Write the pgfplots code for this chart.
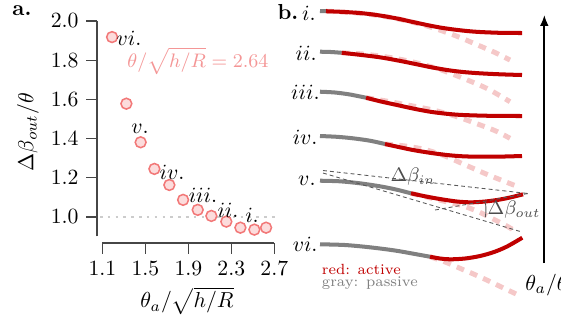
\documentclass[border=0pt]{standalone}
\usepackage{pgfplots}
\pgfplotsset{compat=1.18}
\usetikzlibrary{arrows.meta}
\definecolor{actred}{RGB}{192,0,0}
\definecolor{pasgray}{RGB}{128,128,128}
\definecolor{pinkd}{RGB}{245,200,200}
\definecolor{ptfill}{RGB}{252,220,220}
\definecolor{ptedge}{RGB}{242,120,120}
\definecolor{formula}{RGB}{244,150,150}
\definecolor{spine}{RGB}{70,70,70}
\begin{document}
\begin{tikzpicture}
% ---------------- panel a ----------------
\begin{axis}[
  at={(44.70pt,35.48pt)}, anchor=south west,
  scale only axis, width=82.71pt, height=102.30pt,
  xmin=1.05, xmax=2.72, ymin=0.8667, ymax=2.0,
  axis x line*=bottom, axis y line*=left,
  axis line style={draw=none},
  xtick={1.1,1.5,1.9,2.3,2.7},
  ytick={1.0,1.2,1.4,1.6,1.8,2.0},
  yticklabel style={/pgf/number format/.cd,fixed,fixed zerofill,precision=1},
  xticklabel style={/pgf/number format/.cd,fixed,fixed zerofill,precision=1},
  tick align=outside, major tick length=5pt,
  tick style={spine, line width=0.6pt},
  clip=false,
]
\draw[spine, line width=0.6pt] (axis cs:1.1,0.8667) -- (axis cs:2.7,0.8667);
\draw[spine, line width=0.6pt] (axis cs:1.05,0.9) -- (axis cs:1.05,2.0);
\addplot[gray!40, line width=1.2pt, dash pattern=on 1.2pt off 2.4pt] coordinates {(1.078,1.0) (2.715,1.0)};
\addplot[only marks, mark=*, mark size=2.5pt, mark options={draw=ptedge, fill=ptfill, line width=0.7pt}] coordinates {
(1.19,1.918) (1.323,1.578) (1.456,1.381) (1.584,1.245) (1.723,1.163) (1.851,1.087)
(1.987,1.036) (2.114,1.005) (2.253,0.976) (2.384,0.945) (2.514,0.935) (2.623,0.945)};
\end{axis}
% ---------------- panel b (pixel frame) ----------------
\begin{axis}[
  at={(0pt,0pt)}, anchor=south west,
  scale only axis, width=258.51pt, height=147.46pt,
  xmin=0, xmax=561, ymin=0, ymax=320, y dir=reverse,
  hide axis, clip=false,
]
% passive continuation (dashed pink)
\addplot[pinkd, line width=2.3pt, dash pattern=on 3.6pt off 3.0pt, smooth] coordinates {(326,11.2) (363,13.5) (397,18.7) (427,26) (455,35.5) (480,46) (495,52.5) (510,60)};
\addplot[pinkd, line width=2.3pt, dash pattern=on 3.6pt off 3.0pt, smooth] coordinates {(341.7,52.8) (363,54) (390,57.5) (413,62) (437,68.5) (460,77) (487,88.5) (510,101.7)};
\addplot[pinkd, line width=2.3pt, dash pattern=on 3.6pt off 3.0pt, smooth] coordinates {(366,97.7) (385,100.8) (405,104.5) (433,110) (457,116.7) (483,126) (497,131.5) (510,138.3)};
\addplot[pinkd, line width=2.3pt, dash pattern=on 3.6pt off 3.0pt, smooth] coordinates {(385,144) (405,146) (425,149.5) (445,156) (465,164.8) (490,175.6) (520,187.5)};
\addplot[pinkd, line width=2.3pt, dash pattern=on 3.6pt off 3.0pt, smooth] coordinates {(411,193.3) (435,199) (461.7,205.5) (478,211.5) (491.7,218.3) (504,224.5) (517,232)};
\addplot[pinkd, line width=2.3pt, dash pattern=on 3.6pt off 3.0pt, smooth] coordinates {(430,256.7) (446,262.3) (460,268.3) (473,273.8) (486.7,280) (502,287.3) (518.3,295)};
% passive (gray)
\addplot[pasgray, line width=1.85pt, smooth] coordinates {(320,11) (326,11.2)};
\addplot[pasgray, line width=1.85pt, smooth] coordinates {(320,51.7) (331,52) (341.7,52.8)};
\addplot[pasgray, line width=1.85pt, smooth] coordinates {(320,91.7) (335,92.5) (350,94.5) (366,97.7)};
\addplot[pasgray, line width=1.85pt, smooth] coordinates {(320,136) (337,136.8) (353,138.3) (370,140.7) (385,144)};
\addplot[pasgray, line width=1.85pt, smooth] coordinates {(320,180.7) (340,181.3) (360,183.3) (380,186.3) (396,189.5) (411,193.3)};
\addplot[pasgray, line width=1.85pt, smooth] coordinates {(320,244.3) (345,245) (370,247.3) (395,250.5) (415,254) (430,256.7)};
% active (red)
\addplot[actred, line width=1.85pt, smooth] coordinates {(326,11.2) (345,12) (363,13.3) (380,15.5) (397,18.5) (412,21.8) (427,25) (440,27.5) (453,29.4) (467,31) (480,32) (500,32.8) (522,33)};
\addplot[actred, line width=1.85pt, smooth] coordinates {(341.7,52.8) (360,54.8) (380,57.3) (397,60.3) (413,63.5) (430,67) (447,70) (463,72) (480,73.3) (500,74.3) (522,75)};
\addplot[actred, line width=1.85pt, smooth] coordinates {(366,97.7) (381,101.5) (397,105) (413,108.5) (430,111.7) (447,113.8) (463,115) (490,115.8) (522,116)};
\addplot[actred, line width=1.85pt, smooth] coordinates {(385,144) (400,147.3) (413,150) (430,152.8) (447,155) (463,156.3) (480,156.7) (500,156.6) (522,156)};
\addplot[actred, line width=1.85pt, smooth] coordinates {(411,193.3) (427,196.7) (443,199.5) (457,201.5) (470,202.3) (483,201.7) (497,200) (510,197.5) (523,194.3)};
\addplot[actred, line width=1.85pt, smooth] coordinates {(430,256.7) (440,258.5) (450,259.3) (465,258.5) (480,256) (494,252) (507,246.5) (522.3,237.7)};
% construction lines (row v)
\addplot[black!65, line width=0.4pt, dash pattern=on 1.8pt off 1.4pt] coordinates {(323,170.5) (528,193.5)};
\addplot[black!65, line width=0.4pt, dash pattern=on 1.8pt off 1.4pt] coordinates {(323,173) (522,232)};
\addplot[black!65, line width=0.4pt, dash pattern=on 1.8pt off 1.4pt] coordinates {(435,210) (528,193.5)};
\addplot[black!65, line width=0.4pt, smooth] coordinates {(485.3,202.1) (485.9,207.35) (485.9,211.85) (485.3,217.1)};
\node[black!70, font=\small, inner sep=0pt] at (axis cs:413,177) {$\Delta\beta_{in}$};
\node[black!70, font=\small, inner sep=0pt] at (axis cs:514,210) {$\Delta\beta_{out}$};
% vertical arrow
\draw[black, line width=0.8pt, -{Latex[length=5pt,width=4pt]}] (axis cs:544.3,263) -- (axis cs:544.3,15);
\node[anchor=west, inner sep=0pt] at (axis cs:525,285) {$\theta_a/\theta$};
% row labels b
\node[anchor=east, inner sep=0pt] at (axis cs:316,13) {$i.$};
\node[anchor=east, inner sep=0pt] at (axis cs:317,53) {$ii.$};
\node[anchor=east, inner sep=0pt] at (axis cs:320,92) {$iii.$};
\node[anchor=east, inner sep=0pt] at (axis cs:318,137) {$iv.$};
\node[anchor=east, inner sep=0pt] at (axis cs:316,181) {$v.$};
\node[anchor=east, inner sep=0pt] at (axis cs:318,244) {$vi.$};
% legend text
\node[anchor=base west, text=actred, font=\fontsize{6.8}{7}\selectfont, inner sep=0pt] at (axis cs:321.5,274.5) {red: active};
\node[anchor=base west, text=pasgray, font=\fontsize{6.8}{7}\selectfont, inner sep=0pt] at (axis cs:321.5,286.5) {gray: passive};
% panel labels
\node[inner sep=0pt] at (axis cs:22,11) {\textbf{a.}};
\node[inner sep=0pt] at (axis cs:288,12) {\textbf{b.}};
% panel a labels
\node[rotate=90, inner sep=0pt] at (axis cs:28,132) {$\Delta\beta_{out}/\theta$};
\node[inner sep=0pt] at (axis cs:187,301) {$\theta_a/\sqrt{h/R}$};
\node[text=formula, font=\small, inner sep=0pt] at (axis cs:198,61) {$\theta/\sqrt{h/R}=2.64$};
\node[inner sep=0pt] at (axis cs:129,38.5) {$vi.$};
\node[inner sep=0pt] at (axis cs:140,129) {$v.$};
\node[inner sep=0pt] at (axis cs:172,172) {$iv.$};
\node[inner sep=0pt] at (axis cs:203,195) {$iii.$};
\node[inner sep=0pt] at (axis cs:228,210) {$ii.$};
\node[inner sep=0pt] at (axis cs:252,215) {$i.$};
\end{axis}
\pgfresetboundingbox
\path[use as bounding box] (0pt,0pt) rectangle (258.51pt,147.46pt);
\end{tikzpicture}
\end{document}
